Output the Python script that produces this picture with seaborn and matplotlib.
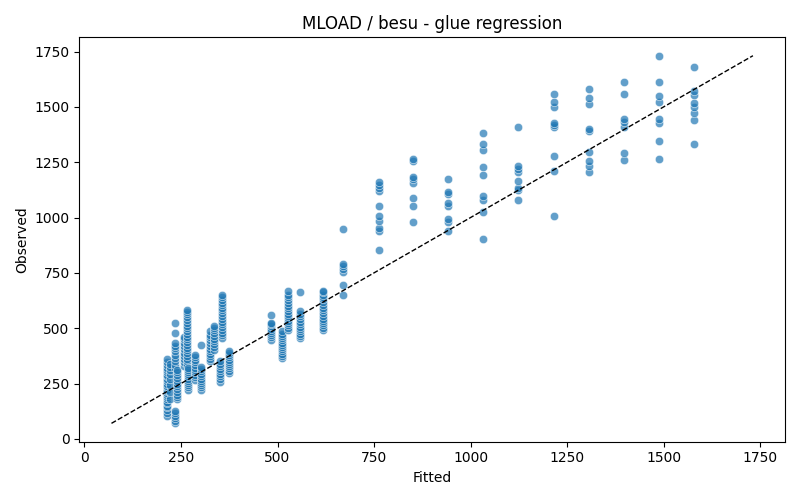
import matplotlib
matplotlib.use("Agg")
import matplotlib.pyplot as plt
import numpy as np
import pandas as pd
import seaborn as sns

# fitted value of each column of points
fitted_levels = [215, 222, 234, 240, 258, 265, 269, 285, 301, 324, 335, 350, 355, 374,
                 482, 512, 528, 557, 617, 670, 762, 852, 942, 1033, 1123, 1216,
                 1307, 1397, 1488, 1578]

observed_by_level = [
    [105, 118, 130, 142, 150, 160, 168, 178, 188, 196, 205, 215, 222, 232, 240,
     250, 262, 270, 282, 290, 300, 312, 320, 335, 348, 360],
    [180, 210, 245, 270, 295, 310, 325, 340],
    [70, 82, 95, 105, 115, 128, 320, 335, 350, 365, 380, 395, 410, 420, 433, 478, 523],
    [178, 190, 200, 212, 225, 238, 250, 262, 275, 288, 300, 312],
    [330, 345, 360, 375, 390, 405, 420, 435, 450, 462],
    [335, 350, 362, 375, 388, 400, 412, 425, 438, 450, 462, 475, 488, 500, 512,
     525, 538, 550, 562, 572, 583],
    [222, 232, 242, 252, 262, 272, 282, 292, 302, 312, 320],
    [267, 278, 290, 300, 312, 322, 335, 345, 358, 368, 380],
    [222, 232, 242, 252, 262, 272, 282, 295, 305, 315, 325, 425],
    [350, 362, 372, 385, 395, 408, 420, 432, 445, 458, 470, 485],
    [403, 415, 428, 440, 452, 465, 478, 490, 500, 508],
    [259, 270, 282, 292, 305, 315, 328, 340, 350],
    [455, 468, 480, 492, 505, 518, 530, 542, 555, 568, 580, 592, 605, 615, 628, 640, 651],
    [297, 308, 318, 328, 338, 348, 358, 368, 378, 388, 395],
    [448, 458, 468, 478, 488, 498, 508, 518, 523, 561],
    [365, 375, 385, 395, 405, 415, 425, 435, 445, 455, 465, 475, 485],
    [493, 503, 513, 523, 533, 545, 555, 565, 578, 590, 602, 615, 628, 640, 652, 666],
    [455, 465, 475, 485, 495, 505, 518, 530, 542, 555, 566, 576, 663],
    [493, 503, 513, 523, 533, 543, 555, 567, 580, 592, 605, 618, 630, 642, 652, 662, 670],
    [648, 695, 752, 767, 779, 791, 950],
    [855, 938, 953, 986, 1007, 1052, 1120, 1134, 1146, 1161],
    [981, 1052, 1089, 1157, 1172, 1183, 1256, 1266],
    [941, 978, 993, 1052, 1067, 1107, 1117, 1175],
    [905, 1027, 1077, 1099, 1190, 1230, 1307, 1330, 1382],
    [1081, 1123, 1132, 1164, 1205, 1217, 1234, 1411],
    [1007, 1212, 1280, 1407, 1418, 1428, 1500, 1520, 1560],
    [1206, 1232, 1257, 1297, 1392, 1401, 1515, 1541, 1581],
    [1262, 1293, 1411, 1432, 1446, 1556, 1613],
    [1265, 1346, 1428, 1446, 1520, 1550, 1613, 1731],
    [1333, 1442, 1470, 1501, 1518, 1553, 1572, 1682],
]

rows = []
for f, obs in zip(fitted_levels, observed_by_level):
    for o in obs:
        rows.append((f, o))
df = pd.DataFrame(rows, columns=["Fitted", "Observed"])

fig, ax = plt.subplots(figsize=(8, 5), dpi=100)
sns.scatterplot(data=df, x="Fitted", y="Observed", alpha=0.7, ax=ax)

# identity line
lo = min(df["Fitted"].min(), df["Observed"].min())
hi = max(df["Fitted"].max(), df["Observed"].max())
ax.plot([lo, hi], [lo, hi], "k--", lw=1)

ax.set_title("MLOAD / besu - glue regression")
plt.tight_layout()
plt.savefig("out.png")
